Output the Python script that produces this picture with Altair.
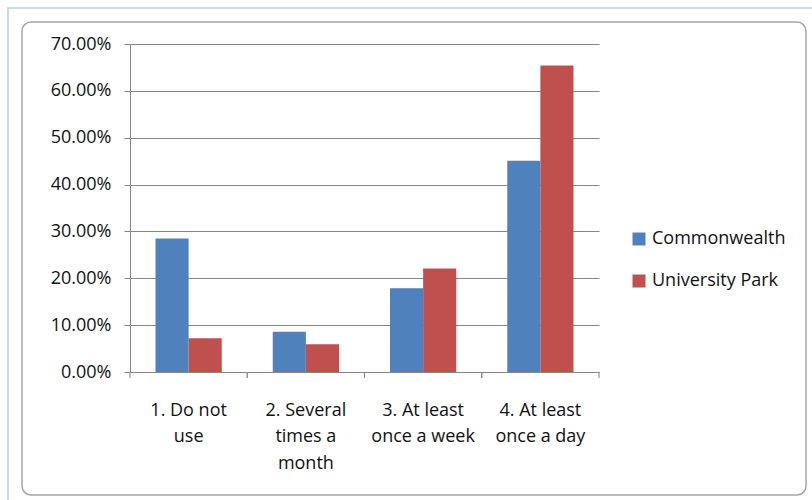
import json
import altair as alt
import pandas as pd

categories = ["1. Do not use", "2. Several times a month", "3. At least once a week", "4. At least once a day"]
label_lines = [["1. Do not", "use"], ["2. Several", "times a", "month"], ["3. At least", "once a week"], ["4. At least", "once a day"]]
series = ["Commonwealth", "University Park"]
commonwealth = [0.285, 0.086, 0.179, 0.451]
university_park = [0.072, 0.059, 0.221, 0.654]
y_ticks = [0.0, 0.1, 0.2, 0.3, 0.4, 0.5, 0.6, 0.7]
colors = ["#4F81BD", "#C0504D"]

rows = []
for i, c in enumerate(categories):
    rows.append({"Category": c, "Campus": series[0], "Value": commonwealth[i]})
    rows.append({"Category": c, "Campus": series[1], "Value": university_park[i]})
df = pd.DataFrame(rows)

FONT = "Open Sans"
FS = 18
GRAY = "#868686"
W, H = 469, 328

label_expr = f"{json.dumps(label_lines)}[indexof({json.dumps(categories)}, datum.value)]"

x_enc = alt.X(
    "Category:N",
    sort=categories,
    title=None,
    scale=alt.Scale(paddingInner=0, paddingOuter=0),
    axis=alt.Axis(
        labelAngle=0, ticks=False, labelExpr=label_expr, labelPadding=43,
        labelBaseline="alphabetic", labelLineHeight=26.5, labelFontSize=FS,
        domainColor=GRAY, labelColor="#111111", labelFont=FONT,
    ),
)

bars = alt.Chart(df).mark_bar().encode(
    x=x_enc,
    xOffset=alt.XOffset("Campus:N", sort=series, scale=alt.Scale(paddingInner=0, paddingOuter=0.77)),
    y=alt.Y(
        "Value:Q",
        title=None,
        scale=alt.Scale(domain=[0, 0.7], nice=False),
        axis=alt.Axis(
            values=y_ticks, format=".2%", tickSize=6, tickColor=GRAY, domainColor=GRAY,
            gridColor=GRAY, grid=True, labelPadding=13, labelFontSize=FS,
            labelColor="#111111", labelFont=FONT,
        ),
    ),
    color=alt.Color(
        "Campus:N",
        scale=alt.Scale(domain=series, range=colors),
        legend=alt.Legend(
            title=None, orient="none", legendX=500, legendY=186, symbolType="square",
            symbolSize=169, symbolStrokeWidth=0, labelFontSize=FS, labelFont=FONT,
            labelColor="#111111", rowPadding=24, labelOffset=4,
        ),
    ),
)

tick_df = pd.DataFrame({"Category": categories})
ticks0 = alt.Chart(tick_df).mark_rule(color=GRAY).encode(
    x=alt.X("Category:N", sort=categories, bandPosition=0),
    y=alt.value(H), y2=alt.value(H + 6),
)
ticks1 = alt.Chart(tick_df).mark_rule(color=GRAY).encode(
    x=alt.X("Category:N", sort=categories, bandPosition=1),
    y=alt.value(H), y2=alt.value(H + 6),
)

frame_df = pd.DataFrame({"k": [0]})
outer = alt.Chart(frame_df).mark_rect(fillOpacity=0, stroke="#c9dbe6", strokeWidth=2).encode(
    x=alt.value(-122), x2=alt.value(700), y=alt.value(-36), y2=alt.value(470),
)
frame = alt.Chart(frame_df).mark_rect(fillOpacity=0, stroke="#a6a6a6", strokeWidth=1.5, cornerRadius=9).encode(
    x=alt.value(-108), x2=alt.value(676), y=alt.value(-22), y2=alt.value(451),
)

chart = alt.layer(outer, frame, bars, ticks0, ticks1).properties(
    width=W, height=H,
    autosize=alt.AutoSizeParams(type="none"),
    padding={"left": 130, "top": 44, "right": 812 - 130 - W, "bottom": 500 - 44 - H},
    background="white",
).configure_view(stroke=None)

chart.save("out.html", embed_options={"renderer": "svg", "actions": False})
